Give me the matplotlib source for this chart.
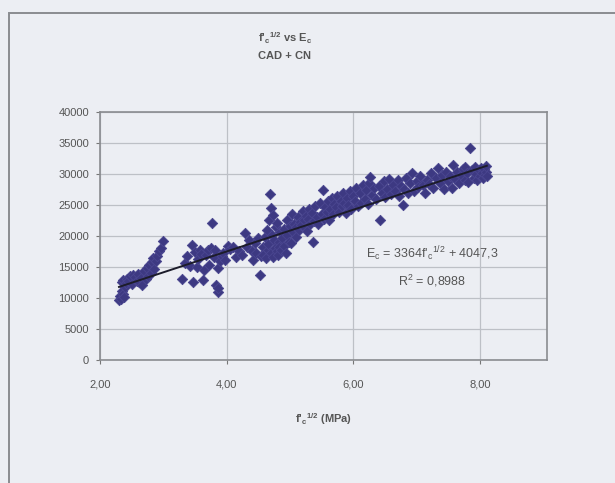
import matplotlib
matplotlib.use("Agg")
import matplotlib.pyplot as plt
from matplotlib.patches import Rectangle
import numpy as np

plt.rcParams["font.family"] = ["Liberation Sans", "DejaVu Sans"]
plt.rcParams["mathtext.default"] = "regular"

# sqrt(f'c) in MPa and Ec in MPa
fc_sqrt = [
    2.30, 2.31, 2.33, 2.34, 2.35, 2.36, 2.37, 2.38, 2.40, 2.41, 2.43, 2.45, 2.47, 2.50, 2.52,
    2.55, 2.58, 2.60, 2.62, 2.65, 2.67, 2.70, 2.72, 2.74, 2.76, 2.78, 2.80, 2.82, 2.84, 2.86,
    2.88, 2.90, 2.93, 2.96, 3.00,
    3.30, 3.35, 3.38, 3.42, 3.45, 3.47, 3.50, 3.53, 3.55, 3.58, 3.60, 3.63, 3.65, 3.68, 3.70,
    3.72, 3.75, 3.77, 3.80, 3.82, 3.84, 3.86, 3.86, 3.87, 3.90, 3.93, 3.95, 3.98, 4.02, 4.06,
    4.10, 4.15, 4.20, 4.24, 4.29, 4.32, 4.35,
    4.40, 4.42, 4.45, 4.47, 4.50, 4.53, 4.55, 4.57, 4.58, 4.60, 4.62, 4.63, 4.65, 4.66, 4.67,
    4.69, 4.70, 4.70, 4.72, 4.73, 4.74, 4.75, 4.76, 4.78, 4.79, 4.80, 4.81, 4.82, 4.83, 4.85,
    4.86, 4.88, 4.90, 4.91, 4.93, 4.95, 4.96, 4.98, 5.00, 5.02, 5.04, 5.05, 5.07, 5.09, 5.10,
    5.12, 5.14, 5.16, 5.18, 5.20,
    5.22, 5.24, 5.25, 5.27, 5.29, 5.30, 5.32, 5.35, 5.37, 5.38, 5.40, 5.42, 5.45, 5.47, 5.50,
    5.52, 5.53, 5.55, 5.58, 5.60, 5.62, 5.64, 5.66, 5.68, 5.70, 5.72, 5.75, 5.77, 5.80, 5.82,
    5.84, 5.86, 5.88, 5.90, 5.92, 5.95, 5.97, 6.00, 6.02, 6.05, 6.08, 6.10, 6.12, 6.15, 6.18,
    6.20, 6.23, 6.25, 6.27, 6.30, 6.33, 6.36, 6.40, 6.43, 6.45, 6.48, 6.50, 6.53, 6.56, 6.60,
    6.63, 6.66, 6.70, 6.72, 6.75, 6.78, 6.80, 6.83, 6.86, 6.90, 6.93, 6.96, 7.00, 7.03, 7.06,
    7.10, 7.13, 7.16, 7.20, 7.23, 7.26, 7.30, 7.34, 7.37, 7.40, 7.43, 7.46, 7.50, 7.53, 7.56,
    7.58, 7.61, 7.64, 7.67, 7.70, 7.73, 7.76, 7.77, 7.80, 7.82, 7.85, 7.87, 7.90, 7.92, 7.94,
    7.96, 7.98, 8.00, 8.02, 8.04, 8.05, 8.07, 8.08, 8.10, 8.10, 8.11,
]
Ec = [
    9600, 10300, 9900, 11200, 12600, 10600, 12900, 10100, 11800, 12400, 13100, 12700, 13500, 12300, 13700,
    13400, 12800, 13900, 12600, 13200, 12100, 14300, 13000, 14900, 13600, 15300, 14100, 15800, 16400, 14700,
    15900, 16800, 17500, 18000, 19200,
    13000, 15600, 16800, 15200, 18500, 12600, 17400, 15000, 16300, 17700, 17100, 12900, 14500, 16900, 17800,
    15400, 18100, 22100, 16600, 17700, 12100, 11000, 11600, 14800, 15900, 16700, 17300, 16200, 18400, 17900,
    18200, 16600, 17600, 16900, 20500, 18200, 19300,
    17600, 16100, 18900, 17200, 19600, 13700, 16800, 18200, 17000, 19900, 16400, 21000, 17800, 18700, 22600,
    26700, 24500, 17200, 20100, 23400, 16600, 19300, 18000, 21400, 17500, 22100, 16900, 19000, 18300, 20700,
    17700, 19600, 18400, 21200, 17300, 20200, 22600, 19100, 21600, 18800, 23600, 20600, 22000, 19800, 21500,
    23000, 20900, 22300, 21700, 24000,
    22500, 21300, 23300, 20800, 22800, 24400, 21900, 23700, 19000, 22400, 24900, 23100, 22000, 25300, 23600,
    27400, 22800, 24700, 23900, 25700, 22500, 24300, 26200, 23500, 25100, 24600, 26500, 23800, 25600, 24900,
    27000, 25300, 23700, 26100, 25000, 27300, 24400, 26400, 25700, 27800, 24800, 26900, 25400, 28200, 26000,
    27400, 25100, 28600, 29500, 26600, 27700, 25900, 28000, 22600, 27000, 28900, 26300, 27600, 29200, 26800,
    28300, 27200, 29000, 26400, 28100, 25000, 27600, 29400, 27000, 28500, 30200, 27300, 28800, 27900, 29600,
    28200, 26900, 29100, 28400, 30100, 27700, 29300, 31000, 28600, 29800, 27500, 30300, 28900, 29600, 27800,
    31500, 29200, 30400, 28500, 29900, 30800, 29000, 31100, 30200, 28700, 34200, 30600, 29400, 31200, 30000,
    29100, 30700, 29600, 31000, 30200, 29300, 30800, 29800, 30400, 31300, 29700,
]

# trend line given on the chart: Ec = 3364 * sqrt(f'c) + 4047.3
slope = 3364
intercept = 4047.3

x_ticks = [2, 4, 6, 8]
x_labels = ["2,00", "4,00", "6,00", "8,00"]
y_ticks = [0, 5000, 10000, 15000, 20000, 25000, 30000, 35000, 40000]

bg = "#eceef3"
text_col = "#555555"
grid_col = "#bdc0c6"

fig = plt.figure(figsize=(6.15, 4.83), dpi=100, facecolor=bg)
fig.patches.append(Rectangle((9 / 615, -0.2), 2.0, 1.2 - 13 / 483,
                             transform=fig.transFigure, fill=False,
                             edgecolor="#8a8c90", linewidth=1.4))

ax = fig.add_axes([100 / 615, 1 - 360 / 483, 447 / 615, 248 / 483])
ax.set_facecolor(bg)

ax.scatter(fc_sqrt, Ec, marker="D", s=28, color="#3d3982", edgecolors="#4a4690",
           linewidths=0.6, zorder=3)

xs = np.array([min(fc_sqrt), max(fc_sqrt)])
ax.plot(xs, slope * xs + intercept, color="#1c1c2a", linewidth=1.4, zorder=4)

ax.set_xlim(2, 9.06)
ax.set_ylim(0, 40000)
ax.set_xticks(x_ticks)
ax.set_xticklabels(x_labels)
ax.set_yticks(y_ticks)
ax.grid(True, color=grid_col, linewidth=0.9)
ax.set_axisbelow(True)
for side in ax.spines.values():
    side.set_color("#8a8c90")
    side.set_linewidth(1.2)
ax.tick_params(axis="both", direction="out", length=3, color="#777777",
               labelsize=8, labelcolor=text_col)
ax.tick_params(axis="x", pad=11)
ax.tick_params(axis="y", pad=5)

ax.set_xlabel(r"f'$_c$$^{1/2}$ (MPa)", fontsize=8, fontweight="bold",
              color=text_col, labelpad=16)

fig.text(285 / 615, 1 - 38 / 483, r"f'$_c$$^{1/2}$ vs E$_c$", ha="center", va="center",
         fontsize=8, fontweight="bold", color=text_col)
fig.text(285 / 615, 1 - 56 / 483, "CAD + CN", ha="center", va="center",
         fontsize=8, fontweight="bold", color=text_col)

ax.text(7.25, 17100, r"E$_c$ = 3364f'$_c$$^{1/2}$ + 4047,3", ha="center", va="center",
        fontsize=9, color=text_col)
ax.text(7.25, 12700, r"R$^2$ = 0,8988", ha="center", va="center",
        fontsize=9, color=text_col)

fig.savefig("out.png", dpi=100, facecolor=bg)
